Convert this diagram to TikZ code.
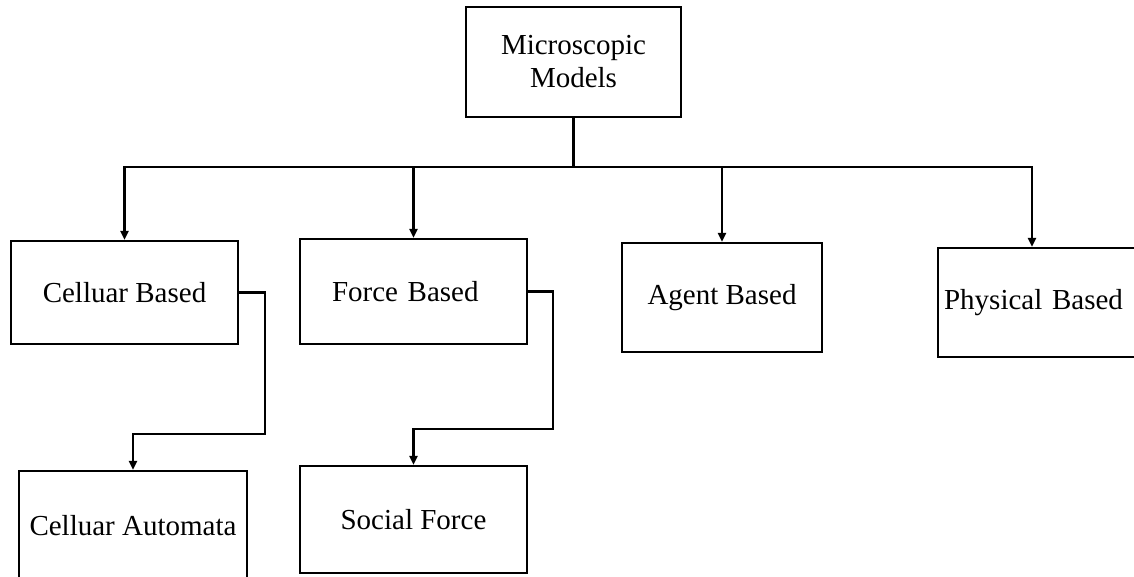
\documentclass[tikz,border=0pt]{standalone}
\usepackage{fontspec}
\setmainfont{Liberation Serif}
\usetikzlibrary{arrows.meta}
\tikzset{
  box/.style={draw, line width=2.2pt, align=center, inner sep=0pt,
    font=\fontsize{29}{33}\selectfont},
  link/.style={line width=2.2pt, -{Triangle[length=9pt,width=8pt]}}
}
\begin{document}
\begin{tikzpicture}[x=1pt,y=-1pt]
\useasboundingbox (0,0) rectangle (1134,576);
\clip (0,0) rectangle (1134,576);
% top of the tree
\node[box, minimum width=215pt, minimum height=110pt] (micro) at (573.5,62) {Microscopic\\Models};
% second row
\node[box, minimum width=227pt, minimum height=103pt] (cell) at (124.5,292.5) {Celluar Based};
\node[box, minimum height=105pt, text width=163pt, inner xsep=32pt, align=left] (force) at (413.5,291.5) {Force Based};
\node[box, minimum width=200pt, minimum height=109pt] (agent) at (722,297.5) {Agent Based};
\node[box, anchor=west, minimum height=109pt, text width=200pt, inner xsep=6pt, align=left] (phys) at (937,302.5) {Physical Based};
% third row
\node[box, minimum width=228pt, minimum height=109pt] (auto) at (133,525.5) {Celluar Automata};
\node[box, minimum width=227pt, minimum height=107pt] (social) at (413.5,519.5) {Social Force};
% connectors
\draw[line width=2.2pt] (micro.south) -- (573.5,167) coordinate (bus);
\draw[link] (bus) -| (cell.north);
\draw[link] (bus) -| (force.north);
\draw[link] (bus) -| (agent.north);
\draw[link] (bus) -| ([xshift=95pt]phys.north west);
\draw[link] (cell.east) -- ++(26,0) |- ([yshift=36pt]auto.north) -- (auto.north);
\draw[link] (force.east) -- ++(25,0) |- ([yshift=36pt]social.north) -- (social.north);
\end{tikzpicture}
\end{document}
